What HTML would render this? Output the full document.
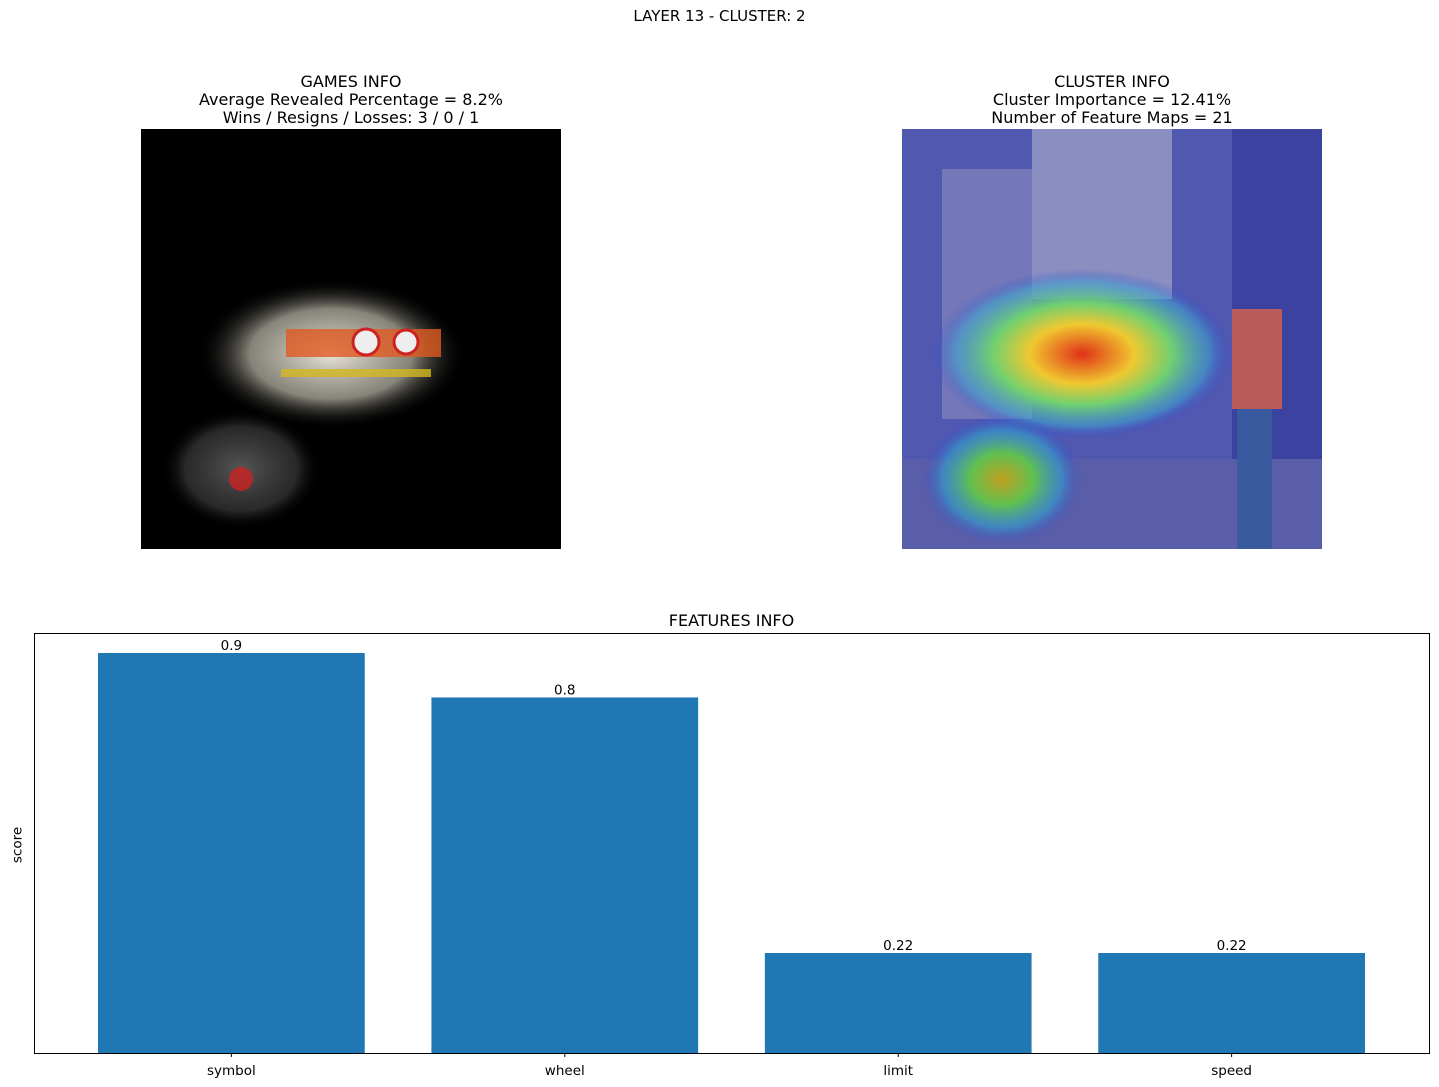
<!DOCTYPE html>
<html><head><meta charset="utf-8">
<style>
html,body{margin:0;padding:0;background:#fff;}
body{width:1439px;height:1087px;position:relative;overflow:hidden;font-family:"DejaVu Sans","Liberation Sans",sans-serif;color:#000;}
.t{position:absolute;text-align:center;white-space:nowrap;font-size:16px;line-height:18px;}
.img{position:absolute;overflow:hidden;}
</style></head><body>
<div class="t" style="left:0;width:1439px;top:7px;font-size:15px;">LAYER 13 - CLUSTER: 2</div>

<div class="t" style="left:141px;width:420px;top:73px;">GAMES INFO<br>Average Revealed Percentage = 8.2%<br>Wins / Resigns / Losses: 3 / 0 / 1</div>
<div class="img" style="left:141px;top:129px;width:420px;height:420px;background:#000;">
<svg width="420" height="420">
<defs>
<radialGradient id="g1" cx="0.5" cy="0.5" r="0.5"><stop offset="0" stop-color="#e8e4d8"/><stop offset="0.6" stop-color="#a8a498" stop-opacity="0.8"/><stop offset="1" stop-color="#000" stop-opacity="0"/></radialGradient>
<radialGradient id="g2" cx="0.5" cy="0.5" r="0.5"><stop offset="0" stop-color="#555"/><stop offset="0.7" stop-color="#444" stop-opacity="0.6"/><stop offset="1" stop-color="#000" stop-opacity="0"/></radialGradient>
</defs>
<ellipse cx="190" cy="225" rx="135" ry="75" fill="url(#g1)"/>
<ellipse cx="100" cy="340" rx="80" ry="60" fill="url(#g2)"/>
<rect x="145" y="200" width="155" height="28" fill="#e05a20" opacity="0.8"/>
<rect x="140" y="240" width="150" height="8" fill="#d4b820" opacity="0.8"/>
<circle cx="225" cy="213" r="13" fill="#eee" stroke="#c22" stroke-width="3"/>
<circle cx="265" cy="213" r="12" fill="#eee" stroke="#c22" stroke-width="3"/>
<circle cx="100" cy="350" r="12" fill="#c22" opacity="0.8"/>
</svg></div>

<div class="t" style="left:902px;width:420px;top:73px;">CLUSTER INFO<br>Cluster Importance = 12.41%<br>Number of Feature Maps = 21</div>
<div class="img" style="left:902px;top:129px;width:420px;height:420px;background:#4a4fa0;">
<svg width="420" height="420">
<defs>
<radialGradient id="h1" cx="0.5" cy="0.5" r="0.5"><stop offset="0" stop-color="#e03018"/><stop offset="0.35" stop-color="#f0c830"/><stop offset="0.6" stop-color="#70d070"/><stop offset="0.85" stop-color="#40a0d0" stop-opacity="0.6"/><stop offset="1" stop-color="#3040d0" stop-opacity="0"/></radialGradient>
<radialGradient id="h2" cx="0.5" cy="0.5" r="0.5"><stop offset="0" stop-color="#c0a020"/><stop offset="0.4" stop-color="#60c050"/><stop offset="0.75" stop-color="#30a0d0" stop-opacity="0.6"/><stop offset="1" stop-color="#3040d0" stop-opacity="0"/></radialGradient>
</defs>
<rect x="0" y="0" width="420" height="420" fill="#5058b0"/>
<rect x="130" y="0" width="140" height="170" fill="#8a8ec0"/>
<rect x="40" y="40" width="90" height="250" fill="#7478b8"/>
<rect x="330" y="0" width="90" height="420" fill="#3c42a0"/>
<rect x="0" y="330" width="420" height="90" fill="#5a5ea8"/>
<ellipse cx="180" cy="225" rx="150" ry="85" fill="url(#h1)"/>
<ellipse cx="100" cy="350" rx="80" ry="65" fill="url(#h2)"/>
<rect x="330" y="180" width="50" height="100" fill="#d06050" opacity="0.85"/>
<rect x="335" y="280" width="35" height="140" fill="#3a5aa0"/>
</svg></div>

<div class="t" style="left:34px;width:1395px;top:612px;">FEATURES INFO</div>
<div class="t" style="left:-10px;top:836px;width:55px;font-size:13.5px;transform:rotate(-90deg);">score</div>
<svg id="chart" style="position:absolute;left:0;top:0;" width="1439" height="1087"></svg>

<script>
const categories = ["symbol","wheel","limit","speed"];
const scores = [0.9, 0.8, 0.225, 0.225];
const valueLabels = ["0.9","0.8","0.22","0.22"];

const NS="http://www.w3.org/2000/svg";
const svg=document.getElementById('chart');
const ax={l:34,r:1429,t:633,b:1053};
const xmin=-0.592, xmax=3.592, ymax=Math.max(...scores)*1.05;
const xs=v=>ax.l+(v-xmin)/(xmax-xmin)*(ax.r-ax.l);
const ys=v=>ax.b-v/ymax*(ax.b-ax.t);
function mk(tag,attrs){const e=document.createElementNS(NS,tag);for(const k in attrs)e.setAttribute(k,attrs[k]);svg.appendChild(e);return e;}
const bw=0.8;
const ff='DejaVu Sans, Liberation Sans, sans-serif';
categories.forEach((c,i)=>{
  const r=mk('rect',{x:xs(i-bw/2),y:ys(scores[i]),width:xs(i+bw/2)-xs(i-bw/2),height:ys(0)-ys(scores[i]),fill:'#1f77b4'});
  
  
  const vl=mk('text',{x:xs(i),y:ys(scores[i])-3,'text-anchor':'middle','font-size':13.5,'font-family':ff});
  vl.textContent=valueLabels[i];
  
  
  const tk=mk('line',{x1:xs(i),x2:xs(i),y1:ax.b,y2:ax.b+4,stroke:'#000','stroke-width':1});
  
  
  const tl=mk('text',{x:xs(i),y:ax.b+22,'text-anchor':'middle','font-size':13.5,'font-family':ff});
  tl.textContent=c;
  
  
});
const fr=mk('rect',{x:ax.l+0.5,y:ax.t+0.5,width:ax.r-ax.l,height:ax.b-ax.t,fill:'none',stroke:'#000','stroke-width':1});


</script>
</body></html>
